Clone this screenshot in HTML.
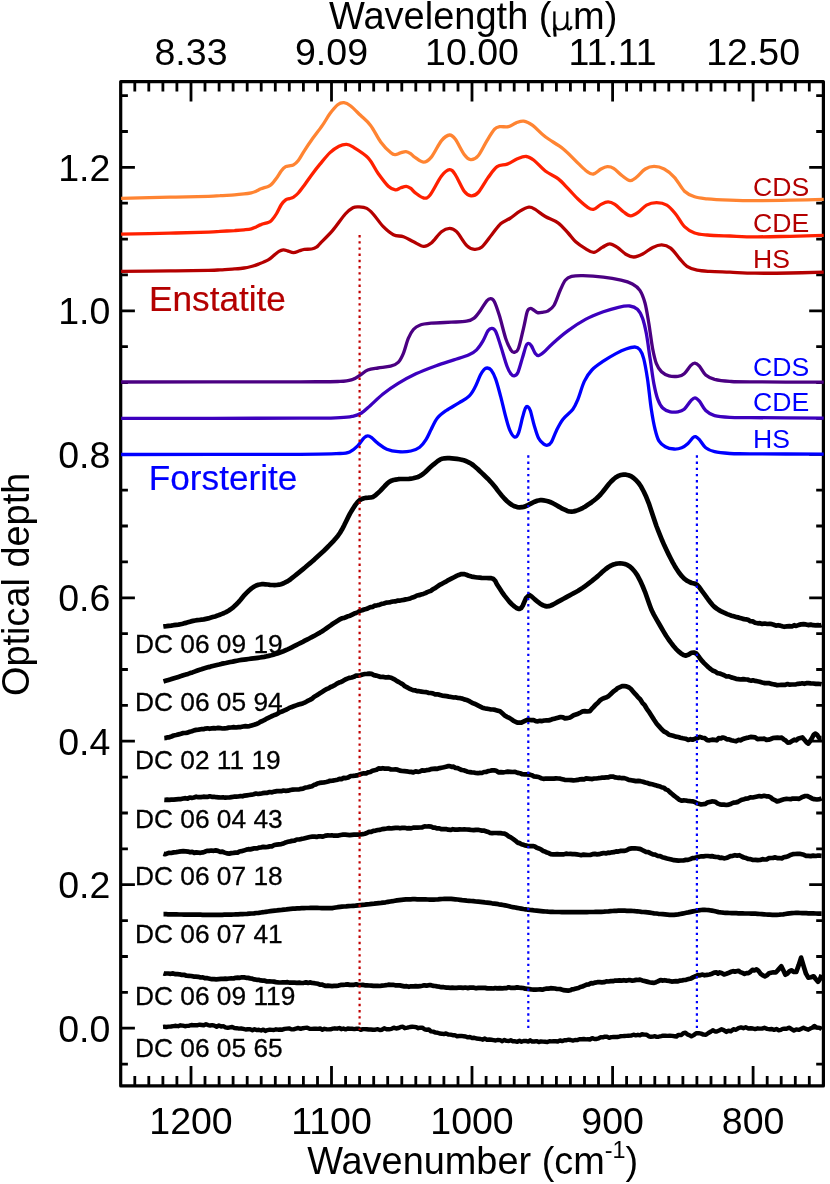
<!DOCTYPE html>
<html><head><meta charset="utf-8"><title>Optical depth spectra</title>
<style>html,body{margin:0;padding:0;background:#fff}svg{display:block;will-change:transform}text{font-family:"Liberation Sans", sans-serif}</style>
</head><body>
<svg width="830" height="1184" viewBox="0 0 830 1184">
<rect width="830" height="1184" fill="#fff"/>
<rect x="120.7" y="81.6" width="702.7" height="1004.3" fill="none" stroke="#000" stroke-width="3.2" stroke-linejoin="round"/>
<path d="M809.3 81.6 v10.0 M809.3 1085.9 v-10.0M795.3 81.6 v10.0 M795.3 1085.9 v-10.0M781.2 81.6 v10.0 M781.2 1085.9 v-10.0M767.2 81.6 v10.0 M767.2 1085.9 v-10.0M753.1 81.6 v20.0 M753.1 1085.9 v-20.0M739.1 81.6 v10.0 M739.1 1085.9 v-10.0M725.0 81.6 v10.0 M725.0 1085.9 v-10.0M711.0 81.6 v10.0 M711.0 1085.9 v-10.0M696.9 81.6 v10.0 M696.9 1085.9 v-10.0M682.9 81.6 v10.0 M682.9 1085.9 v-10.0M668.8 81.6 v10.0 M668.8 1085.9 v-10.0M654.8 81.6 v10.0 M654.8 1085.9 v-10.0M640.7 81.6 v10.0 M640.7 1085.9 v-10.0M626.6 81.6 v10.0 M626.6 1085.9 v-10.0M612.6 81.6 v20.0 M612.6 1085.9 v-20.0M598.5 81.6 v10.0 M598.5 1085.9 v-10.0M584.5 81.6 v10.0 M584.5 1085.9 v-10.0M570.4 81.6 v10.0 M570.4 1085.9 v-10.0M556.4 81.6 v10.0 M556.4 1085.9 v-10.0M542.3 81.6 v10.0 M542.3 1085.9 v-10.0M528.3 81.6 v10.0 M528.3 1085.9 v-10.0M514.2 81.6 v10.0 M514.2 1085.9 v-10.0M500.2 81.6 v10.0 M500.2 1085.9 v-10.0M486.1 81.6 v10.0 M486.1 1085.9 v-10.0M472.0 81.6 v20.0 M472.0 1085.9 v-20.0M458.0 81.6 v10.0 M458.0 1085.9 v-10.0M443.9 81.6 v10.0 M443.9 1085.9 v-10.0M429.9 81.6 v10.0 M429.9 1085.9 v-10.0M415.8 81.6 v10.0 M415.8 1085.9 v-10.0M401.8 81.6 v10.0 M401.8 1085.9 v-10.0M387.7 81.6 v10.0 M387.7 1085.9 v-10.0M373.7 81.6 v10.0 M373.7 1085.9 v-10.0M359.6 81.6 v10.0 M359.6 1085.9 v-10.0M345.6 81.6 v10.0 M345.6 1085.9 v-10.0M331.5 81.6 v20.0 M331.5 1085.9 v-20.0M317.5 81.6 v10.0 M317.5 1085.9 v-10.0M303.4 81.6 v10.0 M303.4 1085.9 v-10.0M289.3 81.6 v10.0 M289.3 1085.9 v-10.0M275.3 81.6 v10.0 M275.3 1085.9 v-10.0M261.2 81.6 v10.0 M261.2 1085.9 v-10.0M247.2 81.6 v10.0 M247.2 1085.9 v-10.0M233.1 81.6 v10.0 M233.1 1085.9 v-10.0M219.1 81.6 v10.0 M219.1 1085.9 v-10.0M205.0 81.6 v10.0 M205.0 1085.9 v-10.0M191.0 81.6 v20.0 M191.0 1085.9 v-20.0M176.9 81.6 v10.0 M176.9 1085.9 v-10.0M162.9 81.6 v10.0 M162.9 1085.9 v-10.0M148.8 81.6 v10.0 M148.8 1085.9 v-10.0M134.8 81.6 v10.0 M134.8 1085.9 v-10.0M120.7 1064.1 h7.2 M823.4 1064.1 h-7.2M120.7 1028.2 h14.2 M823.4 1028.2 h-14.2M120.7 992.3 h7.2 M823.4 992.3 h-7.2M120.7 956.5 h7.2 M823.4 956.5 h-7.2M120.7 920.6 h7.2 M823.4 920.6 h-7.2M120.7 884.7 h14.2 M823.4 884.7 h-14.2M120.7 848.9 h7.2 M823.4 848.9 h-7.2M120.7 813.0 h7.2 M823.4 813.0 h-7.2M120.7 777.1 h7.2 M823.4 777.1 h-7.2M120.7 741.2 h14.2 M823.4 741.2 h-14.2M120.7 705.4 h7.2 M823.4 705.4 h-7.2M120.7 669.5 h7.2 M823.4 669.5 h-7.2M120.7 633.6 h7.2 M823.4 633.6 h-7.2M120.7 597.8 h14.2 M823.4 597.8 h-14.2M120.7 561.9 h7.2 M823.4 561.9 h-7.2M120.7 526.0 h7.2 M823.4 526.0 h-7.2M120.7 490.2 h7.2 M823.4 490.2 h-7.2M120.7 454.3 h14.2 M823.4 454.3 h-14.2M120.7 418.4 h7.2 M823.4 418.4 h-7.2M120.7 382.5 h7.2 M823.4 382.5 h-7.2M120.7 346.7 h7.2 M823.4 346.7 h-7.2M120.7 310.8 h14.2 M823.4 310.8 h-14.2M120.7 274.9 h7.2 M823.4 274.9 h-7.2M120.7 239.1 h7.2 M823.4 239.1 h-7.2M120.7 203.2 h7.2 M823.4 203.2 h-7.2M120.7 167.3 h14.2 M823.4 167.3 h-14.2M120.7 131.5 h7.2 M823.4 131.5 h-7.2M120.7 95.6 h7.2 M823.4 95.6 h-7.2" stroke="#000" stroke-width="2.8" fill="none"/>
<path d="M121.1 271.4C129.2 271.3 155.4 271.1 170.0 270.9C184.6 270.7 200.3 270.5 208.6 270.3C216.9 270.1 215.7 270.1 220.0 269.9C224.3 269.7 230.5 269.2 234.5 268.9C238.5 268.6 241.3 268.4 244.1 268.0C246.9 267.6 248.9 267.1 251.3 266.5C253.7 265.9 255.8 265.2 258.6 264.1C261.4 263.0 265.6 261.4 268.2 259.9C270.8 258.4 272.4 256.5 274.2 255.1C276.0 253.7 277.5 252.3 279.0 251.4C280.5 250.5 281.9 250.0 283.3 249.9C284.7 249.8 285.8 250.3 287.5 250.8C289.2 251.3 291.5 252.7 293.5 252.7C295.5 252.7 297.7 251.4 299.5 250.8C301.3 250.2 302.3 249.7 304.3 249.4C306.3 249.1 309.6 249.4 311.6 249.0C313.6 248.6 315.0 248.1 316.4 247.2C317.8 246.3 317.3 246.4 320.0 243.6C322.7 240.8 328.5 235.3 332.7 230.4C336.9 225.5 341.9 217.8 345.3 214.0C348.7 210.2 350.6 208.9 352.9 207.7C355.2 206.5 356.9 206.8 359.2 206.9C361.5 207.0 364.5 207.2 366.8 208.4C369.1 209.6 370.4 211.0 373.1 214.0C375.9 217.0 379.9 223.2 383.3 226.6C386.7 230.0 390.0 233.0 393.4 234.7C396.8 236.4 400.1 235.6 403.5 236.8C406.9 238.0 410.2 240.2 413.6 241.8C417.0 243.4 420.8 246.2 423.7 246.4C426.6 246.6 428.3 245.6 431.3 243.1C434.3 240.6 438.4 234.1 441.5 231.7C444.6 229.2 447.1 228.4 449.6 228.4C452.1 228.4 453.7 228.8 456.6 231.7C459.5 234.6 463.8 242.6 466.8 245.6C469.8 248.6 471.9 249.2 474.4 249.4C476.9 249.6 478.9 249.4 481.9 246.9C484.8 244.4 488.9 238.1 492.1 234.2C495.3 230.3 497.9 226.2 500.9 223.6C503.8 221.0 506.6 220.6 509.8 218.5C513.0 216.4 516.7 213.1 519.9 211.2C523.1 209.3 526.3 207.5 528.9 207.2C531.5 206.9 532.5 207.8 535.2 209.4C537.9 211.0 541.5 214.3 545.3 216.5C549.1 218.7 554.2 220.1 558.0 222.8C561.8 225.6 565.1 229.8 568.1 233.0C571.1 236.2 572.8 239.2 575.7 241.8C578.7 244.5 582.8 247.1 585.8 248.9C588.8 250.7 591.2 252.7 593.9 252.4C596.6 252.2 599.6 248.8 602.2 247.4C604.9 246.0 607.3 243.8 609.8 243.8C612.3 243.8 614.6 245.6 617.4 247.4C620.1 249.2 623.5 252.9 626.3 254.5C629.0 256.1 631.2 257.1 633.9 257.0C636.6 256.9 639.6 255.6 642.7 254.0C645.9 252.4 649.6 248.9 652.8 247.4C656.0 245.9 658.7 244.8 661.7 244.9C664.7 245.0 667.7 245.9 670.6 248.1C673.5 250.3 676.7 255.2 679.4 258.3C682.1 261.4 684.0 264.4 687.0 266.4C690.0 268.4 693.3 269.4 697.1 270.2C700.9 271.0 704.3 271.1 709.8 271.4C715.3 271.7 722.5 271.9 730.0 272.2C737.5 272.5 745.0 273.1 755.0 273.2C765.0 273.3 778.5 273.2 790.0 273.0C801.5 272.8 818.1 272.3 823.7 272.2" fill="none" stroke="#b40000" stroke-width="3.3" stroke-linejoin="round" stroke-linecap="butt"/>
<path d="M121.1 234.2C129.2 234.0 155.4 233.4 170.0 233.1C184.6 232.8 200.3 232.4 208.6 232.1C216.9 231.8 215.7 231.6 220.0 231.3C224.3 231.1 230.5 230.8 234.5 230.6C238.5 230.3 241.3 230.1 244.1 229.8C246.9 229.5 249.3 229.3 251.3 228.8C253.3 228.3 254.5 227.7 256.1 227.0C257.7 226.3 259.0 225.3 261.0 224.6C263.0 223.8 266.4 223.2 268.2 222.5C270.0 221.8 270.4 221.6 271.8 220.1C273.2 218.6 275.0 216.1 276.6 213.5C278.2 210.9 279.9 206.8 281.4 204.5C282.9 202.2 284.4 200.9 285.7 199.9C287.0 198.9 288.0 199.1 289.3 198.7C290.6 198.2 292.0 198.1 293.5 197.2C295.0 196.2 296.5 195.0 298.3 193.0C300.1 191.0 302.1 188.2 304.3 185.2C306.5 182.2 309.0 178.4 311.6 174.9C314.2 171.4 316.9 167.8 320.0 164.1C323.1 160.4 326.8 155.6 330.0 152.6C333.2 149.6 336.2 147.6 339.0 146.2C341.8 144.8 344.3 144.3 346.6 144.4C348.9 144.5 349.3 144.7 352.9 146.9C356.5 149.1 363.9 153.4 368.1 157.8C372.3 162.2 374.8 168.8 378.2 173.5C381.6 178.2 385.4 183.5 388.3 186.2C391.2 188.9 393.3 189.5 395.4 189.8C397.5 190.1 398.9 188.4 400.7 187.8C402.5 187.2 404.6 186.2 406.3 186.3C408.0 186.4 409.4 187.4 410.8 188.4C412.2 189.4 412.9 191.0 415.0 192.6C417.1 194.2 421.2 197.6 423.7 198.0C426.2 198.4 427.1 198.7 430.1 195.0C433.1 191.3 438.2 180.2 441.5 176.0C444.8 171.8 447.3 169.9 449.6 169.7C451.9 169.5 453.0 171.2 455.4 174.8C457.8 178.4 461.6 187.7 464.2 191.2C466.8 194.7 468.8 195.6 471.1 195.8C473.4 196.0 475.3 195.6 478.2 192.5C481.1 189.4 485.1 181.6 488.3 177.3C491.5 173.0 494.0 168.9 497.1 166.7C500.2 164.5 503.8 165.4 507.2 164.1C510.6 162.8 514.2 160.1 517.4 158.8C520.6 157.5 523.5 156.2 526.3 156.5C529.0 156.8 530.7 157.9 533.9 160.3C537.1 162.7 541.3 167.9 545.3 171.0C549.3 174.1 554.2 175.7 558.0 178.6C561.8 181.5 564.7 185.2 568.1 188.7C571.5 192.1 575.0 196.3 578.2 199.3C581.4 202.3 584.6 205.2 587.1 206.9C589.6 208.6 591.1 209.8 593.4 209.4C595.7 209.0 598.5 205.7 601.0 204.4C603.5 203.1 605.8 201.8 608.1 201.8C610.4 201.8 612.3 202.7 614.9 204.4C617.5 206.1 621.1 210.1 623.7 212.0C626.3 213.9 628.3 215.7 630.6 215.8C632.9 215.9 635.1 214.5 637.7 212.7C640.4 210.9 643.4 206.8 646.5 205.1C649.6 203.4 653.2 202.6 656.6 202.6C660.0 202.6 663.6 203.2 666.8 205.1C670.0 207.0 672.6 210.4 675.6 214.0C678.6 217.6 681.3 223.4 684.5 226.6C687.7 229.8 690.8 231.6 694.6 233.0C698.4 234.4 701.3 234.5 707.2 235.0C713.1 235.5 722.0 235.7 730.0 236.0C738.0 236.3 745.0 236.8 755.0 236.8C765.0 236.9 778.5 236.5 790.0 236.3C801.5 236.1 818.1 235.6 823.7 235.4" fill="none" stroke="#ff2000" stroke-width="3.3" stroke-linejoin="round" stroke-linecap="butt"/>
<path d="M121.1 198.3C129.2 198.1 155.4 197.5 170.0 197.2C184.6 196.9 200.3 196.6 208.6 196.3C216.9 196.1 215.7 195.9 220.0 195.7C224.3 195.4 230.5 195.1 234.5 194.8C238.5 194.5 241.3 194.2 244.1 193.9C246.9 193.6 249.3 193.2 251.3 192.8C253.3 192.4 254.5 191.9 256.1 191.2C257.7 190.5 259.0 189.6 261.0 188.8C263.0 188.0 266.4 187.2 268.2 186.4C270.0 185.6 270.4 185.4 271.8 184.0C273.2 182.6 275.0 180.2 276.6 178.0C278.2 175.8 279.9 172.6 281.4 170.7C282.9 168.8 284.4 167.5 285.7 166.7C287.0 165.9 288.0 166.2 289.3 165.9C290.6 165.6 292.0 165.8 293.5 164.9C295.0 164.0 296.5 162.8 298.3 160.5C300.1 158.2 302.1 154.2 304.3 150.8C306.5 147.4 308.6 144.2 311.6 140.0C314.6 135.8 319.3 129.8 322.4 125.4C325.5 121.0 327.4 117.0 330.0 113.5C332.6 110.0 335.4 106.5 337.7 104.7C340.0 102.9 341.9 102.5 344.0 102.7C346.1 102.9 347.6 103.6 350.4 105.7C353.1 107.8 357.1 112.0 360.5 115.3C363.9 118.6 367.2 121.0 370.6 125.4C374.0 129.8 377.3 137.3 380.7 141.9C384.1 146.5 388.4 150.7 390.9 152.8C393.3 154.9 393.8 154.6 395.4 154.6C397.0 154.6 398.7 153.4 400.5 152.9C402.3 152.4 404.3 151.5 406.0 151.6C407.7 151.7 409.1 152.6 410.6 153.6C412.1 154.6 412.8 155.9 415.0 157.3C417.2 158.7 421.0 162.1 423.7 162.1C426.4 162.1 428.3 160.7 431.3 157.1C434.3 153.5 438.4 144.3 441.5 140.6C444.6 136.9 447.3 135.2 449.6 135.0C451.9 134.8 453.0 136.1 455.4 139.3C457.8 142.6 461.7 151.1 464.2 154.5C466.7 157.9 468.3 159.4 470.6 159.6C472.9 159.8 475.5 159.0 478.2 155.8C480.9 152.6 484.3 145.0 487.0 140.6C489.7 136.2 492.5 131.5 494.6 129.2C496.7 126.9 497.4 127.1 499.7 126.7C502.0 126.3 505.8 127.3 508.5 126.7C511.2 126.1 513.6 123.8 516.1 122.9C518.6 122.0 520.9 120.7 523.7 121.1C526.5 121.5 529.1 122.8 532.7 125.4C536.3 128.0 540.2 132.9 545.3 136.8C550.3 140.7 557.5 144.3 563.0 148.7C568.5 153.1 574.2 159.6 578.2 163.4C582.2 167.2 584.6 169.7 587.1 171.5C589.6 173.3 591.1 174.4 593.4 174.0C595.7 173.6 598.7 170.2 601.0 169.0C603.3 167.8 605.2 166.8 607.3 166.7C609.4 166.6 611.1 166.8 613.6 168.4C616.1 170.0 619.8 174.0 622.5 176.0C625.2 178.0 627.8 180.4 630.1 180.6C632.4 180.8 633.9 179.2 636.4 177.3C638.9 175.4 642.3 170.8 645.3 169.0C648.2 167.2 651.0 166.4 654.1 166.4C657.2 166.4 660.8 167.2 664.2 169.0C667.6 170.8 671.0 173.6 674.4 177.3C677.8 181.0 681.1 187.9 684.5 191.2C687.9 194.4 690.8 195.5 694.6 196.8C698.4 198.1 701.3 198.2 707.2 198.8C713.1 199.4 722.0 199.8 730.0 200.1C738.0 200.4 745.0 200.6 755.0 200.6C765.0 200.6 778.5 200.4 790.0 200.2C801.5 200.0 818.1 199.5 823.7 199.3" fill="none" stroke="#ff8432" stroke-width="3.3" stroke-linejoin="round" stroke-linecap="butt"/>
<path d="M121.1 454.5C150.9 454.5 263.5 454.5 300.0 454.3C336.5 454.1 331.6 453.9 340.0 453.5C348.4 453.1 347.2 453.0 350.1 451.7C353.1 450.4 355.4 448.2 357.7 445.9C360.0 443.6 362.3 439.5 364.0 437.8C365.7 436.1 366.5 435.8 367.8 435.8C369.1 435.8 369.9 436.3 371.6 437.6C373.3 438.9 375.5 441.5 378.0 443.4C380.5 445.3 383.4 447.8 386.8 449.2C390.2 450.6 394.2 451.4 398.2 451.7C402.2 452.0 407.3 451.8 410.9 451.0C414.5 450.2 417.2 449.1 419.7 447.2C422.2 445.3 424.1 442.6 426.0 439.6C427.9 436.7 429.2 433.1 431.1 429.5C433.0 425.9 434.9 421.3 437.4 418.1C439.9 414.9 442.7 413.0 446.3 410.5C449.9 408.0 455.1 405.3 458.9 402.9C462.7 400.5 466.4 398.8 469.1 396.1C471.9 393.4 473.5 390.0 475.4 386.5C477.3 383.0 478.9 378.0 480.4 375.1C481.9 372.2 483.0 370.5 484.2 369.3C485.4 368.1 486.1 367.9 487.3 368.0C488.5 368.1 489.7 368.2 491.1 370.0C492.5 371.8 494.0 374.5 495.6 378.9C497.2 383.3 499.0 390.3 500.7 396.6C502.4 402.9 504.1 411.1 505.7 416.8C507.2 422.5 508.5 427.3 510.0 430.7C511.5 434.1 513.2 436.7 514.6 437.1C516.0 437.5 517.0 436.7 518.4 433.3C519.8 429.9 521.5 421.0 522.7 416.8C523.9 412.6 524.6 409.7 525.5 408.0C526.4 406.3 527.0 406.3 527.8 406.7C528.6 407.1 529.2 407.3 530.3 410.5C531.4 413.7 532.9 421.1 534.3 425.7C535.7 430.3 537.0 435.2 538.6 438.3C540.2 441.4 542.3 443.1 543.8 444.2C545.3 445.3 546.3 445.5 547.6 445.2C548.9 444.9 549.9 444.5 551.4 442.1C552.9 439.7 554.5 434.5 556.4 430.7C558.3 426.9 560.0 423.0 562.8 419.4C565.5 415.8 570.4 412.6 572.9 409.2C575.4 405.8 576.1 403.7 578.0 399.1C579.9 394.5 582.0 386.2 584.3 381.4C586.6 376.5 588.7 373.4 591.9 370.0C595.1 366.6 599.3 363.9 603.3 361.2C607.3 358.5 612.1 355.6 615.9 353.6C619.7 351.6 622.8 350.1 626.0 349.0C629.2 347.9 632.6 346.9 634.9 347.0C637.2 347.1 638.4 347.9 639.9 349.8C641.4 351.7 642.4 353.8 643.7 358.6C645.0 363.5 646.2 370.5 647.5 378.9C648.8 387.3 650.0 400.8 651.3 409.2C652.6 417.6 653.8 424.2 655.1 429.5C656.4 434.8 657.2 438.0 658.9 440.9C660.6 443.8 662.8 445.3 665.3 446.7C667.8 448.1 671.4 448.8 674.1 449.0C676.8 449.2 679.4 448.6 681.7 447.7C684.0 446.8 686.1 445.1 688.0 443.4C689.9 441.7 691.8 438.7 693.1 437.6C694.4 436.5 694.6 436.3 695.6 436.6C696.6 436.9 697.7 437.8 699.4 439.6C701.1 441.5 703.2 445.7 705.7 447.7C708.2 449.7 710.6 450.7 714.6 451.7C718.6 452.7 723.9 453.1 729.8 453.5C735.7 453.9 734.4 453.7 750.0 453.8C765.6 453.9 811.4 454.1 823.7 454.2" fill="none" stroke="#0000ff" stroke-width="3.3" stroke-linejoin="round" stroke-linecap="butt"/>
<path d="M121.1 418.4C150.9 418.4 263.5 418.3 300.0 418.2C336.5 418.1 331.2 417.9 340.0 417.6C348.8 417.3 349.1 417.1 352.7 416.3C356.3 415.5 358.6 414.8 361.5 413.0C364.4 411.2 366.8 408.6 370.4 405.4C374.0 402.2 378.4 397.7 383.0 394.0C387.6 390.3 392.7 386.8 398.2 383.4C403.7 380.0 409.6 376.8 415.9 373.8C422.2 370.9 429.9 368.0 436.2 365.7C442.5 363.4 448.4 361.7 453.9 359.9C459.4 358.1 465.2 356.5 469.0 354.8C472.8 353.1 474.3 352.1 476.6 349.8C478.9 347.5 481.1 344.1 483.0 340.9C484.9 337.7 486.5 332.9 488.0 330.8C489.5 328.7 490.5 328.2 491.8 328.3C493.1 328.4 494.1 328.4 495.6 331.3C497.1 334.2 498.8 340.2 500.7 346.0C502.6 351.8 505.3 361.6 507.0 366.2C508.7 370.8 509.6 372.2 510.8 373.8C512.0 375.4 512.9 376.0 514.1 375.8C515.3 375.6 516.5 375.4 517.9 372.5C519.2 369.6 520.9 363.0 522.2 358.6C523.6 354.2 525.0 348.5 526.0 346.0C527.0 343.5 527.6 343.4 528.5 343.4C529.4 343.4 530.4 344.3 531.5 346.0C532.6 347.7 534.1 352.0 535.3 353.6C536.5 355.2 537.2 355.8 538.6 355.6C540.0 355.4 541.4 354.3 543.7 352.3C546.1 350.3 548.7 347.0 552.7 343.4C556.7 339.8 562.3 334.8 567.8 330.8C573.3 326.8 579.6 322.6 585.5 319.4C591.4 316.2 597.8 313.8 603.3 311.8C608.8 309.8 614.0 308.3 618.4 307.3C622.8 306.3 626.6 305.7 629.8 306.0C633.0 306.3 635.3 307.3 637.4 309.3C639.5 311.3 641.0 314.1 642.5 318.1C644.0 322.1 645.0 326.6 646.3 333.3C647.6 340.1 648.8 350.2 650.1 358.6C651.4 367.0 652.6 377.1 653.9 383.9C655.2 390.6 656.2 395.1 657.7 399.1C659.2 403.1 660.6 405.9 662.7 408.0C664.8 410.1 667.8 411.2 670.3 411.8C672.8 412.4 675.6 412.2 677.9 411.8C680.2 411.4 682.1 411.0 684.2 409.2C686.3 407.4 688.8 403.0 690.6 401.1C692.4 399.2 693.4 397.8 694.9 397.8C696.4 397.8 697.6 399.0 699.4 401.1C701.2 403.2 703.2 408.1 705.7 410.5C708.2 412.9 710.6 414.5 714.6 415.6C718.6 416.7 723.9 417.0 729.8 417.3C735.7 417.6 734.4 417.5 750.0 417.6C765.6 417.8 811.4 418.1 823.7 418.2" fill="none" stroke="#3c00be" stroke-width="3.3" stroke-linejoin="round" stroke-linecap="butt"/>
<path d="M121.1 382.0C150.9 382.0 263.5 381.9 300.0 381.8C336.5 381.7 331.2 381.8 340.0 381.4C348.8 381.0 349.3 380.4 352.7 379.4C356.1 378.3 357.7 376.7 360.2 375.1C362.7 373.5 364.8 371.2 367.8 370.0C370.8 368.8 374.2 368.6 378.0 368.0C381.8 367.4 387.2 367.1 390.6 366.2C394.0 365.3 396.1 364.5 398.2 362.4C400.3 360.3 401.6 357.6 403.3 353.6C405.0 349.6 406.6 342.4 408.3 338.4C410.0 334.4 411.5 331.7 413.4 329.5C415.3 327.3 416.8 326.2 419.7 325.2C422.6 324.1 425.8 323.7 431.1 323.2C436.4 322.7 445.4 322.5 451.3 322.2C457.2 321.9 462.7 321.9 466.5 321.2C470.3 320.5 471.8 319.9 474.1 318.1C476.4 316.3 478.3 313.4 480.4 310.5C482.5 307.6 485.1 302.9 486.8 300.9C488.5 298.9 489.3 298.6 490.6 298.7C491.9 298.8 492.9 298.9 494.4 301.7C495.9 304.5 497.5 309.5 499.4 315.6C501.3 321.7 503.8 332.7 505.7 338.4C507.6 344.1 509.4 347.5 510.8 349.8C512.2 352.1 512.8 352.5 514.1 352.3C515.4 352.1 516.8 352.5 518.4 348.5C520.0 344.5 522.0 334.4 523.5 328.3C525.0 322.2 526.1 315.1 527.2 311.8C528.3 308.5 529.2 308.8 530.3 308.5C531.4 308.2 532.4 309.3 533.6 310.0C534.8 310.7 535.9 312.2 537.4 312.6C538.9 313.0 540.7 312.6 542.4 312.3C544.1 312.1 545.7 312.2 547.6 311.1C549.5 310.0 551.8 309.0 553.9 305.5C556.0 302.0 558.3 294.5 560.2 290.3C562.1 286.1 563.4 282.5 565.3 280.2C567.2 277.9 568.6 277.2 571.6 276.4C574.6 275.6 577.7 275.5 583.0 275.6C588.3 275.7 597.0 276.3 603.3 277.1C609.6 277.9 616.1 279.1 621.0 280.2C625.9 281.3 629.2 282.3 632.4 284.0C635.5 285.7 637.8 287.1 639.9 290.3C642.0 293.5 643.5 297.5 645.0 303.0C646.5 308.5 647.5 315.6 648.8 323.2C650.1 330.8 651.3 341.8 652.6 348.5C653.9 355.2 654.9 359.8 656.4 363.7C657.9 367.6 659.4 369.8 661.5 371.8C663.6 373.8 666.3 375.1 669.0 375.8C671.7 376.6 675.4 376.6 677.9 376.3C680.4 376.0 682.1 375.6 684.2 373.8C686.3 372.0 688.8 367.5 690.6 365.7C692.4 363.9 693.4 363.1 694.9 363.2C696.4 363.3 697.6 364.2 699.4 366.2C701.2 368.2 703.2 372.9 705.7 375.1C708.2 377.3 710.6 378.3 714.6 379.4C718.6 380.4 723.9 381.0 729.8 381.4C735.7 381.8 734.4 381.8 750.0 381.9C765.6 382.0 811.4 382.1 823.7 382.2" fill="none" stroke="#4b0082" stroke-width="3.3" stroke-linejoin="round" stroke-linecap="butt"/>
<path d="M163.3 626.5L164.7 626.3L166.5 626.1L168.7 625.8L171.1 625.6L173.6 625.2L176.1 624.9L178.5 624.6L180.5 624.2L182.8 623.7L184.9 623.1L186.9 622.6L188.9 622.0L190.9 621.4L193.1 620.9L195.1 620.5L197.2 620.2L199.3 620.0L201.5 619.7L203.7 619.4L206.0 618.9L208.3 618.4L210.4 617.8L212.7 617.1L215.1 616.4L217.5 615.6L219.8 614.7L222.0 613.9L224.1 613.0L226.0 612.1L228.5 610.7L230.6 609.3L232.5 607.9L234.3 606.3L236.2 604.5L238.3 602.4L240.4 600.0L242.4 597.5L244.4 595.1L246.3 593.1L249.0 590.5L251.5 588.4L253.9 586.8L256.2 585.5L258.4 584.7L261.5 584.2L263.3 584.2L265.4 584.3L267.7 584.5L270.1 584.8L272.4 585.0L274.6 585.1L276.6 585.0L279.0 584.7L281.0 584.2L283.0 583.5L284.8 582.7L286.8 581.7L288.7 580.5L290.6 579.2L292.5 577.7L294.6 576.0L296.9 574.1L298.8 572.6L300.9 570.9L303.1 569.1L305.3 567.3L307.6 565.3L309.9 563.4L312.1 561.5L314.3 559.6L316.5 557.6L318.7 555.6L320.9 553.6L323.1 551.6L325.2 549.5L327.2 547.5L329.5 545.2L331.7 542.9L333.9 540.6L335.9 538.2L338.0 535.7L339.9 533.0L342.1 529.3L344.3 525.1L346.3 520.9L348.3 516.9L350.1 513.4L352.9 508.7L355.4 504.9L357.7 502.0L359.8 500.1L361.8 499.0L364.0 498.2L366.1 497.8L368.4 497.7L370.7 497.5L372.9 496.9L375.5 495.3L377.9 493.1L380.5 490.6L382.6 488.4L384.8 486.0L387.1 483.6L389.3 481.8L391.4 480.7L393.5 480.0L395.7 479.6L398.2 479.2L400.1 479.0L402.2 479.0L404.5 479.0L406.7 479.0L408.9 478.9L410.9 478.7L413.1 478.3L415.1 477.8L417.1 477.3L419.0 476.5L421.0 475.4L423.0 474.0L425.1 472.2L427.2 470.2L429.2 468.3L431.1 466.6L433.4 464.6L435.7 462.7L437.8 461.0L439.9 459.7L442.3 458.7L444.5 458.3L447.5 458.2L449.5 458.2L451.8 458.4L454.3 458.6L456.9 458.9L459.3 459.3L461.5 459.7L463.8 460.3L465.8 461.0L467.7 461.8L469.6 462.8L471.6 464.0L473.6 465.5L475.6 467.2L477.7 469.0L479.7 471.0L481.7 472.9L483.7 474.8L485.7 476.7L487.8 478.7L489.8 480.8L491.8 483.0L493.9 485.5L496.0 488.1L498.0 490.9L500.0 493.4L501.9 495.7L504.6 498.8L507.1 501.2L509.5 503.3L512.0 505.0L514.6 506.3L517.1 507.1L519.6 507.4L522.2 507.2L524.7 506.6L527.2 505.5L529.8 504.1L532.3 502.8L534.7 501.7L537.2 500.7L539.9 500.2L541.7 500.2L543.7 500.4L545.7 500.7L547.9 501.2L550.1 502.0L552.1 502.9L554.3 504.0L556.5 505.3L558.8 506.6L560.9 507.8L562.8 508.8L565.2 509.9L567.3 510.9L569.3 511.5L571.6 511.6L573.7 511.4L575.8 510.9L578.0 510.1L580.4 509.1L583.0 507.8L585.0 506.7L587.1 505.3L589.4 503.8L591.7 502.2L593.9 500.5L596.1 498.7L598.2 496.9L600.5 494.5L602.8 491.8L605.0 489.0L607.1 486.3L609.1 483.8L610.9 481.8L613.8 479.0L616.1 477.2L618.4 475.9L620.9 475.0L623.5 474.6L626.0 474.7L628.5 475.3L631.1 476.3L633.6 478.0L636.1 480.2L638.7 483.1L641.2 486.8L643.7 491.5L646.3 497.1L648.8 503.3L651.2 510.4L653.7 518.1L656.4 526.0L658.3 530.8L660.3 535.8L662.3 540.8L664.4 545.6L666.5 550.1L668.6 554.4L670.7 558.5L672.7 562.4L674.7 565.9L676.6 569.0L679.3 573.1L681.8 576.2L684.2 578.7L686.8 580.6L689.5 582.0L691.8 583.0L694.3 583.5L696.9 584.7L699.2 587.2L701.7 590.7L704.5 594.4L706.3 596.8L708.2 599.5L710.3 602.2L712.4 604.8L714.6 607.0L716.6 608.5L718.6 609.9L720.7 611.1L722.9 612.2L725.1 613.2L727.2 614.1L729.4 614.9L731.6 615.7L733.8 616.3L736.0 616.9L738.0 617.4L739.9 617.9L742.2 618.6L744.2 619.1L746.1 619.4L748.1 619.8L750.3 621.2L752.7 621.4L755.1 622.8L757.7 623.3L759.9 623.2L762.2 623.9L764.7 623.5L767.2 624.0L769.8 623.8L771.8 624.1L773.8 624.8L775.9 625.6L778.1 625.2L780.2 625.6L782.2 626.3L784.2 626.8L786.8 626.4L789.4 626.1L791.9 626.5L794.2 625.2L796.3 625.9L799.0 624.9L801.1 624.4L803.5 624.2L805.8 624.4L808.2 625.1L810.7 624.6L813.1 625.2L815.5 625.4L818.0 625.2L820.1 625.5L821.6 625.0" fill="none" stroke="#000" stroke-width="4.7" stroke-linejoin="round" stroke-linecap="butt"/>
<path d="M163.5 681.5L164.8 681.1L166.5 680.6L168.5 680.0L170.8 679.3L173.2 678.5L175.8 677.7L178.4 676.9L181.0 676.1L183.4 675.3L185.8 674.6L188.0 673.9L190.2 673.1L192.4 672.4L194.6 671.6L196.8 670.8L199.0 670.0L201.3 669.3L203.7 668.5L206.1 667.8L208.6 667.1L210.6 666.6L212.7 666.0L214.8 665.5L216.9 665.0L219.1 664.5L221.3 663.9L223.6 663.4L225.8 663.0L228.1 662.5L230.4 662.0L232.6 661.6L234.9 661.1L237.1 660.7L239.3 660.3L241.6 659.9L244.0 659.6L246.3 659.3L248.7 659.0L251.1 658.7L253.4 658.4L255.7 658.1L257.9 657.8L260.1 657.5L262.2 657.2L264.2 656.9L266.0 656.5L268.7 655.9L271.2 655.3L273.4 654.7L275.4 654.1L277.4 653.5L279.3 652.8L281.3 652.0L283.4 651.2L285.6 650.3L287.7 649.4L289.8 648.4L291.9 647.3L294.1 646.2L296.2 645.1L298.4 644.0L300.7 642.8L302.8 641.8L304.9 640.7L307.0 639.6L309.2 638.5L311.4 637.3L313.6 636.2L315.8 635.0L317.9 633.8L320.0 632.6L322.3 631.2L324.6 629.6L326.9 628.0L329.2 626.4L331.4 624.8L333.6 623.3L335.7 622.0L337.6 620.8L340.0 619.2L342.2 618.3L344.3 617.9L346.3 617.0L348.2 616.2L350.1 615.7L352.2 614.6L354.2 613.6L356.1 613.0L358.1 612.0L360.2 610.8L362.1 610.3L364.1 609.5L366.1 609.0L368.2 608.2L370.5 607.1L372.9 606.8L374.9 605.6L377.0 605.3L379.3 604.9L381.6 603.8L383.9 603.5L386.2 602.6L388.5 602.5L390.6 602.1L392.9 601.5L395.1 601.4L397.3 600.7L399.4 600.7L401.5 600.3L403.7 599.9L405.8 599.4L408.0 599.0L410.3 598.4L412.6 597.4L414.8 596.7L417.0 595.5L419.1 595.2L421.0 594.5L423.3 593.9L425.4 593.1L427.3 592.1L429.2 591.4L431.1 590.7L433.1 589.1L435.1 588.2L437.2 586.6L439.2 585.2L441.2 584.2L443.3 583.0L445.4 581.9L447.4 580.7L449.4 579.7L451.3 578.7L454.1 577.2L456.6 575.9L458.9 574.9L461.4 574.1L464.0 574.1L466.3 574.7L468.8 575.7L471.6 576.6L473.4 576.9L475.4 577.2L477.4 577.5L479.6 577.7L481.7 577.9L484.0 578.0L486.5 578.0L489.0 578.1L491.3 578.2L493.1 578.7L495.2 580.8L496.9 584.2L499.2 587.7L501.8 591.8L504.5 595.6L507.1 598.9L509.6 602.0L512.1 604.5L514.6 606.6L517.0 608.2L519.1 609.0L521.1 608.1L522.7 605.7L526.0 598.1L529.3 594.9L531.8 596.6L534.8 599.4L537.2 601.3L539.9 603.4L542.4 605.0L544.6 605.9L546.6 606.4L548.9 606.2L550.9 605.5L553.1 604.5L555.4 603.2L557.7 601.9L559.6 600.9L561.5 599.9L563.5 598.8L565.6 597.6L567.8 596.4L569.7 595.4L571.7 594.3L573.8 593.2L576.0 592.0L578.2 590.8L580.5 589.3L582.6 587.9L584.8 586.3L587.1 584.6L589.4 582.8L591.7 581.1L593.8 579.4L595.7 577.9L598.1 575.9L600.2 573.9L602.2 572.1L604.0 570.5L605.8 569.0L608.5 567.0L610.9 565.6L613.4 564.5L615.5 563.9L617.8 563.5L620.1 563.4L622.2 563.5L624.8 564.0L627.3 564.9L629.8 566.5L632.3 568.8L634.9 571.7L637.4 575.4L640.0 580.3L642.6 586.0L645.0 591.8L647.1 597.7L649.2 603.8L651.3 609.5L653.7 614.4L656.2 618.8L658.9 623.5L661.2 627.5L663.6 631.6L666.1 635.8L668.6 639.5L671.1 642.9L673.5 646.0L675.9 648.8L678.2 651.1L681.0 653.4L683.6 655.0L685.9 655.7L688.8 654.5L691.4 652.8L693.8 652.5L696.3 653.5L698.0 655.5L699.9 658.2L702.3 661.2L704.1 663.1L706.2 665.1L708.4 667.2L710.7 669.1L713.1 670.8L715.2 671.5L717.4 673.2L719.7 673.5L722.0 674.4L724.2 675.3L726.4 676.5L728.9 676.4L731.3 677.4L733.7 678.0L736.1 678.8L738.4 679.1L740.7 679.5L743.1 679.1L745.3 679.4L747.5 679.5L749.3 680.2L751.4 680.7L753.0 680.3L755.3 680.9L757.3 681.3L759.7 681.8L762.2 682.5L764.8 683.1L767.3 683.2L769.3 683.2L771.2 683.9L773.2 684.2L775.2 684.6L777.2 685.2L779.4 685.0L781.3 684.8L783.4 684.9L785.5 684.8L787.6 684.1L789.7 684.7L791.8 684.5L793.9 684.5L796.0 684.3L798.1 683.8L800.1 683.7L802.2 683.3L804.3 683.8L806.3 683.2L808.3 683.2L810.7 683.4L813.3 683.5L815.9 683.9L818.2 683.8L820.2 684.0L821.6 684.3" fill="none" stroke="#000" stroke-width="4.7" stroke-linejoin="round" stroke-linecap="butt"/>
<path d="M164.3 738.1L165.6 738.0L167.2 737.3L169.2 737.3L171.4 736.5L173.7 735.5L176.2 735.0L178.6 734.4L181.0 733.8L183.3 733.0L185.5 733.0L187.6 732.6L189.8 731.7L191.9 731.2L194.1 730.4L196.3 729.9L198.6 729.6L201.0 729.2L203.5 729.2L205.4 728.6L207.5 728.3L209.5 728.8L211.6 728.4L213.8 728.1L216.0 728.3L218.2 727.9L220.4 728.2L222.5 728.5L224.7 728.3L226.8 728.1L228.8 727.6L231.2 727.5L233.6 727.2L236.1 727.5L238.5 727.1L240.8 727.1L243.1 726.5L245.4 726.2L247.6 726.3L249.6 726.1L251.6 725.5L254.1 724.8L256.4 724.0L258.5 723.1L260.5 721.8L262.5 721.0L264.6 719.9L266.8 718.6L268.9 717.6L270.9 716.7L273.0 715.6L275.2 714.8L277.4 713.8L279.7 712.3L282.0 711.5L284.5 710.4L286.6 709.5L288.9 708.2L291.3 707.2L293.7 706.3L296.2 705.4L298.6 704.5L301.0 703.9L303.2 703.2L305.3 702.3L307.2 701.2L309.9 699.9L312.2 698.6L314.2 696.7L316.0 695.7L317.9 694.6L319.9 693.2L322.0 691.9L324.2 690.5L326.3 689.2L328.4 688.4L330.6 687.0L332.7 686.2L334.8 685.2L336.9 683.7L339.0 682.6L341.1 681.9L343.2 680.8L345.3 679.5L347.4 678.6L349.6 677.8L351.7 677.5L353.9 676.8L356.0 675.7L358.0 675.6L360.3 675.2L362.6 674.5L364.8 674.0L367.1 673.9L369.3 673.6L371.6 673.9L373.9 675.1L376.2 675.6L378.5 676.2L380.7 677.0L382.8 676.9L384.9 677.3L386.9 677.4L388.9 677.2L390.9 677.7L392.9 678.6L394.9 679.6L397.0 681.1L399.0 682.1L401.0 683.4L402.9 684.4L404.8 686.2L406.7 687.1L408.8 688.3L411.1 689.4L413.0 690.2L414.9 690.3L417.0 691.1L419.2 691.2L421.4 691.6L423.8 692.0L426.3 692.1L428.3 692.8L430.5 693.0L432.8 693.3L435.1 694.3L437.4 694.3L439.8 694.9L442.1 695.6L444.3 695.8L446.5 696.1L448.9 696.6L451.3 697.0L453.7 697.5L456.0 697.4L458.2 698.0L460.4 698.2L462.4 698.6L464.2 699.4L466.7 700.0L468.8 700.9L470.7 702.0L472.5 703.1L474.4 703.7L476.4 704.7L478.3 705.7L480.3 706.7L482.3 707.7L484.5 708.3L486.5 708.7L488.7 709.0L491.0 709.5L493.2 709.5L495.3 709.9L497.1 710.4L500.0 711.3L502.3 713.3L504.7 715.4L506.9 716.8L509.3 717.9L511.6 719.4L513.6 720.9L515.7 721.8L517.5 722.7L519.5 722.7L521.4 722.6L523.4 721.6L525.5 720.6L527.8 719.5L529.7 719.9L531.6 720.1L533.7 720.2L535.8 721.1L538.0 721.3L540.0 720.8L542.1 721.1L544.3 720.5L546.5 720.3L548.6 720.4L550.6 719.9L552.8 719.0L555.0 718.6L557.0 718.0L559.0 717.4L560.7 717.0L563.0 717.4L564.9 718.4L567.1 718.1L569.1 717.8L571.3 716.8L573.6 715.3L575.9 714.5L578.2 713.7L580.6 712.5L582.8 711.3L584.8 711.2L587.2 711.5L589.8 711.2L591.5 709.2L593.5 707.1L595.7 704.6L597.9 702.8L599.9 700.5L602.2 698.9L604.4 698.0L606.6 697.3L608.8 695.9L611.1 693.7L613.4 691.5L615.7 689.9L617.7 688.1L620.0 687.1L622.1 686.2L624.0 686.0L626.4 686.4L629.1 687.5L631.0 689.0L633.3 691.9L635.6 694.3L637.9 697.1L640.2 699.3L642.4 702.8L644.7 705.2L646.8 708.8L649.4 712.4L651.8 716.2L654.2 720.0L656.7 723.7L659.1 726.4L661.6 729.3L664.0 731.5L666.4 732.6L669.0 734.8L671.1 735.3L673.2 735.8L675.5 736.6L678.2 737.0L680.4 737.7L682.8 738.3L685.5 738.7L688.1 739.9L690.5 739.2L692.5 739.7L695.4 738.6L697.5 738.0L699.9 736.9L702.2 737.7L704.7 738.1L707.2 740.1L709.5 740.3L712.1 739.7L714.5 739.9L716.7 740.3L718.7 738.1L720.6 738.5L722.8 737.5L724.8 738.0L726.9 739.4L729.1 739.4L731.2 740.2L733.7 740.8L736.1 741.3L738.4 739.9L740.4 740.3L742.3 739.3L744.5 738.5L746.4 737.9L748.5 737.6L750.7 736.9L752.9 737.1L755.2 737.4L757.5 739.1L759.9 738.8L762.5 738.9L764.4 738.7L766.5 739.9L768.7 739.7L770.8 739.0L772.8 738.1L774.6 737.8L777.4 737.7L779.7 737.9L781.8 737.7L783.8 739.4L785.7 740.6L787.8 742.7L789.8 742.5L792.1 741.1L794.3 739.7L796.3 740.3L798.5 738.4L800.4 737.9L802.3 737.4L804.4 739.8L806.5 742.3L808.3 743.6L810.2 741.0L811.9 738.3L813.7 734.7L815.5 733.6L817.4 735.1L819.2 738.1L821.6 738.0" fill="none" stroke="#000" stroke-width="4.7" stroke-linejoin="round" stroke-linecap="butt"/>
<path d="M164.3 799.8L165.6 799.9L167.2 799.7L169.2 799.9L171.4 799.6L173.7 799.7L176.2 799.4L178.6 799.2L181.0 799.1L183.3 798.5L185.5 798.2L187.6 798.6L189.7 797.5L191.8 797.8L193.9 797.5L196.2 796.7L198.5 797.2L200.9 797.1L203.5 796.7L205.4 796.8L207.4 796.9L209.6 796.3L211.7 796.8L214.0 796.8L216.3 797.2L218.5 797.3L220.8 797.5L223.1 797.3L225.2 797.7L227.4 797.5L229.4 797.5L231.3 797.1L233.9 796.7L236.2 796.6L238.4 796.5L240.6 796.0L242.6 796.3L244.7 795.6L246.9 795.3L249.2 795.0L251.6 794.7L253.7 794.2L255.9 793.5L258.1 794.0L260.3 793.7L262.6 793.2L264.9 792.9L267.3 792.8L269.7 792.0L272.1 792.3L274.5 791.6L276.9 791.1L279.0 791.0L281.2 791.2L283.5 790.5L285.8 790.8L288.1 790.7L290.4 790.0L292.7 789.7L295.0 789.5L297.2 789.5L299.3 789.3L301.2 788.9L303.0 788.6L304.7 787.8L307.7 787.2L310.1 786.6L312.0 786.2L313.7 785.1L315.5 784.6L317.4 783.5L319.6 782.9L321.8 782.6L324.0 782.4L326.2 782.0L328.2 781.5L330.0 780.8L332.7 780.6L334.8 780.2L337.7 779.7L339.5 778.9L341.5 779.1L343.7 777.9L346.0 778.1L348.3 777.4L350.7 776.0L352.9 775.9L355.1 775.7L357.3 775.4L359.6 774.5L361.8 773.8L363.9 773.3L366.1 773.5L368.1 772.3L370.3 772.0L372.5 770.7L374.6 770.2L376.6 769.8L378.6 768.4L380.7 768.6L382.8 768.2L384.7 768.6L386.7 768.7L388.8 768.6L391.0 769.5L393.4 769.5L395.4 769.4L397.5 769.7L399.8 770.6L402.1 771.0L404.4 771.2L406.7 771.4L409.0 771.8L411.1 771.9L413.4 772.4L415.6 771.4L417.8 771.8L419.9 771.5L422.0 770.4L424.2 770.7L426.3 770.2L428.5 770.0L430.8 769.2L433.1 768.9L435.3 768.6L437.5 768.8L439.6 768.1L441.5 767.7L443.8 767.3L445.9 766.8L447.8 766.2L449.7 766.1L451.6 766.8L453.6 766.7L455.6 768.0L457.7 768.2L459.7 769.1L461.7 770.0L463.7 770.3L465.7 770.9L467.8 771.8L469.8 772.1L471.8 772.4L473.8 772.5L475.8 773.0L477.9 773.2L479.9 772.9L481.9 773.0L484.0 772.0L486.0 772.0L488.1 771.1L490.1 770.8L492.1 770.4L494.3 770.4L496.4 770.8L498.5 772.4L500.9 772.1L503.1 772.3L505.4 772.0L507.8 771.6L510.2 771.8L512.5 772.0L515.1 771.8L517.7 772.9L520.1 773.3L522.4 774.2L524.8 774.3L527.0 774.3L530.0 774.7L531.8 775.2L533.9 776.3L536.2 776.6L538.6 777.0L541.0 778.2L543.4 778.8L545.5 778.7L547.7 778.6L549.8 778.6L551.9 778.5L553.9 778.6L556.0 778.3L558.2 778.5L560.3 778.7L562.4 779.2L564.7 779.8L566.9 780.0L569.2 780.0L571.3 780.2L573.4 780.4L575.7 780.2L577.9 779.9L580.0 779.3L582.1 779.1L584.1 779.3L586.0 778.4L588.2 778.6L590.3 778.8L592.2 779.1L594.2 778.5L596.2 778.5L598.2 778.2L600.2 778.0L602.2 777.6L604.2 777.7L606.3 777.4L608.5 777.3L610.7 776.5L612.9 776.6L615.3 777.4L617.7 777.8L619.8 777.7L622.0 778.2L624.3 778.1L626.6 778.9L628.8 779.9L631.0 780.2L633.5 780.6L635.8 781.1L638.1 780.9L640.5 781.2L643.0 781.7L645.2 782.5L647.5 783.1L649.9 783.9L652.3 784.3L654.5 784.9L656.7 785.6L659.1 786.2L661.5 787.2L663.7 787.7L665.8 789.4L667.8 790.1L670.1 792.4L672.1 794.0L674.0 795.6L675.8 797.0L677.8 798.5L679.5 799.9L681.8 800.7L683.7 800.4L685.8 800.5L688.1 801.0L690.4 801.2L692.5 801.3L694.7 801.9L696.8 803.3L698.8 803.8L701.1 804.4L703.1 804.2L705.2 803.9L707.4 802.6L709.6 802.0L711.9 801.4L713.8 801.5L715.8 802.1L717.9 803.6L719.9 804.3L722.0 804.6L724.0 804.7L726.4 805.0L728.8 804.6L731.2 803.7L733.6 802.7L736.0 802.4L738.0 801.9L740.0 800.6L742.0 799.7L744.0 799.2L746.0 798.6L748.1 798.3L750.3 797.3L752.6 797.5L755.0 797.0L757.3 796.5L759.4 796.0L761.3 796.5L764.1 795.8L766.3 796.3L768.6 796.4L770.6 797.3L772.7 799.2L774.8 800.1L777.0 801.4L779.3 800.9L781.6 800.0L784.0 799.3L786.6 798.9L788.5 799.0L790.6 799.2L792.7 798.5L794.8 798.7L796.9 798.5L798.7 799.0L801.1 797.7L803.2 796.7L805.2 796.0L807.1 796.0L809.6 797.1L811.9 798.4L814.3 799.2L817.0 799.5L819.7 799.2L821.6 798.4" fill="none" stroke="#000" stroke-width="4.7" stroke-linejoin="round" stroke-linecap="butt"/>
<path d="M163.5 853.7L164.9 854.2L166.7 853.7L168.8 852.8L171.2 853.0L173.7 852.4L176.3 852.1L178.8 851.7L181.2 851.4L183.3 851.1L185.7 851.3L188.0 851.6L190.1 852.3L192.2 851.9L194.2 852.9L196.3 852.4L198.4 852.6L200.5 852.8L202.7 852.4L204.8 851.7L206.9 850.9L209.1 850.8L211.3 850.5L213.6 850.8L215.7 850.4L217.9 850.9L220.2 851.9L222.5 851.7L224.7 852.6L227.0 853.4L229.2 853.6L231.3 853.1L233.5 852.9L235.5 852.6L237.5 852.7L239.4 851.5L241.5 851.2L243.8 850.6L246.5 849.6L248.3 849.2L250.2 849.4L252.2 848.9L254.4 848.3L256.6 848.4L258.8 847.7L261.1 847.4L263.4 846.9L265.6 847.1L267.8 846.9L269.8 846.4L271.8 846.3L274.3 845.0L276.7 844.6L279.0 844.3L281.3 844.1L283.5 843.5L285.7 842.4L287.9 841.8L290.0 841.4L292.1 840.9L294.5 840.7L296.8 839.5L299.2 839.5L301.4 838.9L303.7 838.5L305.8 838.0L307.8 837.5L309.8 837.0L312.3 836.7L314.6 836.6L316.7 836.9L318.8 836.3L320.6 836.3L322.4 836.7L324.5 836.1L326.1 835.6L327.8 835.4L330.1 835.5L331.9 835.3L333.9 835.7L336.1 835.6L338.4 835.6L340.7 835.0L343.1 834.7L345.3 834.7L347.5 834.9L349.6 835.1L351.8 834.8L354.0 834.6L356.2 834.7L358.3 834.7L360.5 834.4L362.6 834.1L364.8 833.7L366.9 833.0L369.0 831.9L371.2 831.9L373.4 830.8L375.7 830.6L377.8 830.0L379.9 829.9L382.2 829.1L384.4 828.8L386.7 828.5L388.9 828.1L391.2 828.5L393.4 828.1L395.6 827.8L397.8 827.8L400.0 828.3L402.2 827.9L404.5 827.8L406.7 828.3L408.9 828.2L411.1 828.4L413.3 827.6L415.6 827.7L417.8 827.7L420.1 827.5L422.3 827.3L424.6 826.4L426.7 826.5L428.8 826.4L431.1 826.6L433.2 827.6L435.2 827.7L437.3 828.4L439.4 828.4L441.6 829.2L444.0 829.2L446.0 829.1L448.2 829.7L450.5 829.9L452.8 829.2L455.1 829.6L457.5 829.7L459.8 829.4L462.0 829.5L464.2 829.4L466.6 829.5L469.0 829.6L471.4 830.0L473.7 830.1L475.9 829.8L478.1 829.8L480.1 830.2L481.9 830.6L484.4 830.7L486.5 831.4L488.4 832.0L490.2 833.0L492.1 833.2L494.2 833.0L496.3 833.0L498.4 833.1L500.4 833.2L502.2 833.4L504.5 833.6L506.5 834.6L508.7 836.3L510.8 837.4L513.0 838.9L515.3 840.6L517.5 842.6L519.5 843.1L521.5 844.2L523.4 844.8L525.3 845.4L527.8 846.0L530.2 846.1L532.9 846.0L534.8 846.5L536.8 847.8L538.8 848.4L540.9 849.3L543.0 850.9L544.9 851.4L546.8 852.6L548.7 853.1L550.8 854.2L553.1 854.4L555.0 854.3L557.1 854.1L559.3 854.4L561.5 854.3L563.8 854.4L566.1 853.6L568.3 854.0L570.4 853.9L572.6 854.1L574.7 854.1L576.8 854.4L579.0 854.8L581.2 855.2L583.5 854.6L585.6 854.8L587.9 855.0L590.2 855.0L592.5 854.2L594.8 853.9L597.1 854.4L599.2 854.2L601.2 853.6L603.6 853.0L605.9 853.4L608.0 852.7L610.0 852.8L612.0 852.3L613.9 852.2L616.1 851.4L618.2 851.6L620.3 850.9L622.2 850.8L624.0 850.9L626.7 850.2L629.1 848.9L631.6 848.4L633.4 848.4L635.1 848.4L637.0 848.5L639.4 848.8L641.3 849.5L643.5 850.7L645.9 851.8L648.3 852.1L650.7 853.4L652.9 854.4L655.4 854.7L657.8 856.0L660.1 856.2L662.3 857.2L664.5 857.7L667.0 858.5L669.2 859.0L671.5 859.6L674.0 860.2L676.2 860.3L678.5 860.6L680.9 860.5L683.3 860.5L685.7 859.9L688.0 859.9L690.2 859.1L692.5 858.1L694.9 857.8L697.4 857.2L699.3 856.7L701.4 856.3L703.5 856.4L705.7 856.0L707.9 856.0L709.9 856.3L711.9 856.1L714.0 856.6L716.1 857.0L718.0 857.0L720.0 857.9L721.9 857.7L724.0 858.3L726.1 858.0L728.3 857.2L730.5 856.1L732.8 855.8L735.0 855.2L737.2 855.6L739.4 855.2L741.7 856.5L743.9 857.5L746.2 858.1L748.4 859.0L750.5 859.1L753.0 860.0L755.4 859.8L757.8 860.1L760.1 860.0L762.5 859.2L764.6 859.5L766.7 859.3L768.9 858.2L770.9 858.0L772.9 858.0L774.6 857.3L777.1 858.1L779.1 858.0L781.8 858.4L783.7 857.3L785.8 856.9L788.1 856.3L790.4 854.9L792.8 854.2L795.1 854.0L797.3 853.8L799.5 853.8L801.7 854.3L803.9 854.8L806.1 855.8L808.3 855.8L810.7 856.1L813.2 855.6L815.8 856.0L818.1 855.5L820.2 855.7L821.6 855.8" fill="none" stroke="#000" stroke-width="4.7" stroke-linejoin="round" stroke-linecap="butt"/>
<path d="M163.5 914.2L164.7 914.2L166.2 914.2L167.9 914.3L169.9 914.3L172.0 914.3L174.2 914.4L176.6 914.4L179.0 914.5L181.5 914.5L184.0 914.6L186.6 914.6L189.0 914.6L191.4 914.7L193.7 914.7L195.9 914.7L198.1 914.7L200.4 914.7L202.6 914.8L204.9 914.8L207.1 914.8L209.3 914.8L211.5 914.8L213.7 914.8L215.9 914.8L218.0 914.8L220.2 914.8L222.2 914.8L224.3 914.7L226.3 914.7L228.8 914.6L231.2 914.6L233.6 914.5L235.9 914.4L238.1 914.3L240.4 914.2L242.6 914.1L244.8 914.0L247.1 913.9L249.3 913.7L251.6 913.5L253.9 913.3L256.3 913.0L258.6 912.8L261.0 912.5L263.4 912.2L265.7 911.8L268.1 911.5L270.4 911.2L272.6 910.9L274.8 910.6L276.9 910.4L279.4 910.1L281.8 909.9L284.1 909.6L286.4 909.4L288.6 909.1L290.7 908.9L292.9 908.7L295.0 908.6L297.1 908.4L299.4 908.3L301.8 908.2L304.0 908.1L306.3 908.0L308.5 908.0L310.6 907.9L312.7 907.9L314.8 907.9L317.1 907.9L319.5 908.0L321.8 908.1L324.0 908.1L326.1 908.2L328.1 908.2L330.0 908.2L332.2 908.1L334.0 907.8L335.6 907.5L337.6 907.2L340.2 906.9L342.0 906.7L344.0 906.5L346.1 906.4L348.4 906.2L350.8 906.0L353.2 905.8L355.6 905.6L358.1 905.3L360.5 905.1L362.7 904.9L364.9 904.7L367.2 904.4L369.6 904.2L371.9 903.9L374.2 903.7L376.6 903.4L378.9 903.1L381.1 902.9L383.3 902.6L385.7 902.3L388.0 901.9L390.3 901.5L392.6 901.2L394.8 900.8L397.0 900.4L399.2 900.1L401.4 899.8L403.5 899.6L405.9 899.4L408.2 899.3L410.5 899.3L412.8 899.2L415.0 899.2L417.2 899.3L419.2 899.3L421.2 899.3L423.6 899.3L425.7 899.4L427.7 899.5L429.7 899.6L431.7 899.6L433.9 899.6L435.9 899.5L438.0 899.4L440.1 899.2L442.3 899.0L444.5 898.9L446.8 898.8L449.1 898.8L451.2 898.9L453.3 899.1L455.4 899.3L457.6 899.5L459.9 899.8L462.1 900.1L464.5 900.3L466.8 900.6L469.0 900.8L471.2 901.0L473.5 901.2L475.8 901.5L478.2 901.7L480.5 901.9L482.7 902.1L484.9 902.4L487.0 902.6L489.5 902.9L492.0 903.3L494.4 903.6L496.6 903.9L498.8 904.3L501.0 904.6L503.0 905.0L505.2 905.4L507.2 905.8L509.1 906.2L511.1 906.7L513.0 907.1L515.2 907.5L517.2 907.9L519.2 908.2L521.2 908.6L523.4 909.0L525.6 909.3L527.9 909.7L530.4 910.0L532.4 910.2L534.5 910.5L536.6 910.7L538.8 910.9L541.0 911.1L543.3 911.3L545.7 911.5L548.1 911.7L550.6 911.8L552.7 911.9L554.9 912.0L557.1 912.0L559.4 912.0L561.8 912.1L564.1 912.1L566.5 912.1L568.9 912.1L571.2 912.1L573.6 912.1L575.9 912.1L578.0 912.1L580.2 912.1L582.5 912.1L584.7 912.1L587.0 912.1L589.2 912.0L591.4 912.0L593.5 912.0L595.6 911.9L597.6 911.9L599.4 911.9L601.2 911.8L603.9 911.7L606.3 911.5L608.5 911.4L610.5 911.2L612.4 911.0L614.3 910.9L616.4 910.8L618.5 910.7L620.6 910.7L622.7 910.7L624.8 910.7L626.8 910.8L628.9 910.8L631.0 910.9L633.1 911.0L635.2 911.2L637.2 911.3L639.3 911.5L641.4 911.8L643.5 912.0L645.6 912.2L647.7 912.4L649.8 912.7L652.0 913.0L654.1 913.3L656.3 913.5L658.3 913.8L660.4 914.0L662.8 914.2L665.1 914.4L667.4 914.6L669.6 914.8L671.8 914.8L674.0 914.8L676.1 914.6L678.2 914.4L680.2 914.0L682.2 913.6L684.3 913.2L686.3 912.8L688.4 912.4L690.7 911.9L692.9 911.4L695.0 911.0L697.0 910.6L698.7 910.3L701.1 910.0L702.8 909.9L704.7 909.9L706.9 910.0L709.3 910.2L711.9 910.6L714.0 911.0L716.2 911.5L718.6 912.1L721.6 912.5L723.4 912.7L725.3 912.8L727.4 912.9L729.5 913.0L731.8 913.1L734.0 913.2L736.2 913.2L738.4 913.3L740.5 913.4L742.7 913.4L744.8 913.5L747.0 913.5L749.1 913.5L751.2 913.6L753.3 913.6L755.3 913.7L757.5 913.8L759.8 914.0L761.9 914.1L764.1 914.3L766.1 914.5L768.0 914.6L769.8 914.7L772.4 914.8L774.6 914.9L776.8 914.8L779.4 914.7L781.2 914.5L783.2 914.3L785.3 914.0L787.4 913.7L789.6 913.4L791.8 913.2L793.9 913.0L796.0 912.9L798.1 912.9L800.1 913.0L802.2 913.1L804.3 913.1L806.3 913.2L808.3 913.3L810.7 913.4L813.3 913.4L815.9 913.5L818.2 913.6L820.2 913.7L821.6 913.7" fill="none" stroke="#000" stroke-width="4.7" stroke-linejoin="round" stroke-linecap="butt"/>
<path d="M163.5 973.3L164.7 973.7L166.4 973.5L168.3 973.5L170.6 973.8L173.1 973.4L175.7 974.2L177.6 974.2L179.6 974.3L181.8 974.9L184.1 974.8L186.5 975.7L188.9 975.8L191.3 976.0L193.6 976.6L195.9 976.7L198.2 976.8L200.5 977.5L202.9 977.4L205.2 978.2L207.5 978.2L209.8 978.7L212.0 979.2L214.2 979.1L216.2 979.3L218.7 979.1L221.0 978.9L223.2 978.8L225.3 978.7L227.3 978.8L229.3 978.5L231.3 978.4L233.6 978.5L235.7 977.8L237.8 977.7L239.9 977.8L241.9 977.3L244.0 977.4L246.1 977.8L248.1 977.9L250.1 978.4L252.2 978.7L254.4 979.4L256.6 979.8L258.6 979.8L260.6 980.4L262.7 980.6L264.8 980.7L267.0 981.5L269.3 981.3L271.8 981.5L273.8 981.6L276.0 982.1L278.3 982.4L280.6 982.5L283.0 982.3L285.3 982.3L287.7 982.2L289.9 982.7L292.1 982.7L294.5 982.6L296.9 982.8L299.3 982.7L301.6 983.0L303.8 982.8L306.0 982.4L308.0 982.9L309.8 982.4L312.3 983.0L314.4 983.2L316.3 983.5L318.1 983.8L320.0 984.7L321.9 984.5L323.8 985.3L325.7 986.0L327.8 985.7L330.1 985.9L332.0 986.1L334.1 985.9L336.3 985.8L338.5 985.6L340.8 984.9L343.1 984.8L345.3 984.7L347.5 984.4L349.6 984.9L351.8 984.8L354.0 984.8L356.2 984.3L358.3 985.0L360.5 985.0L362.7 984.9L364.8 985.3L367.0 985.4L369.2 985.5L371.4 985.6L373.5 985.9L375.7 985.8L377.8 985.9L379.9 986.0L382.0 985.7L384.0 985.5L386.2 985.2L388.5 984.7L390.9 984.8L392.9 984.8L395.1 985.3L397.4 985.3L399.7 985.4L402.0 985.9L404.4 986.4L406.7 986.2L408.9 986.8L411.1 986.3L413.4 986.4L415.7 986.2L417.9 986.4L420.1 986.2L422.3 985.8L424.4 985.3L426.6 985.6L428.8 985.2L431.0 985.2L433.0 985.9L435.1 986.0L437.2 986.4L439.3 986.7L441.5 987.2L443.9 987.2L446.5 987.6L448.3 987.6L450.3 987.8L452.3 987.6L454.4 987.8L456.5 987.8L458.7 987.6L460.9 987.6L463.1 987.9L465.3 987.5L467.5 988.1L469.7 987.6L471.8 987.6L473.9 987.7L476.1 988.3L478.4 987.9L480.6 987.8L482.8 987.8L485.1 987.9L487.3 988.4L489.4 988.4L491.5 988.4L493.5 988.5L495.3 988.0L497.1 988.4L499.8 988.1L502.3 988.3L504.5 988.2L506.6 988.1L508.6 987.3L510.5 987.8L512.5 987.8L514.8 987.9L517.0 987.4L519.1 987.7L521.1 987.8L523.2 988.0L525.3 988.7L527.4 988.9L529.5 989.1L531.7 989.5L533.8 989.6L535.9 989.6L538.0 989.5L540.1 989.4L542.3 989.7L544.5 989.0L546.6 988.7L548.6 988.6L550.6 988.2L552.8 988.3L554.9 988.5L557.0 989.0L558.9 989.0L560.7 989.2L563.3 990.1L565.7 990.4L568.3 990.7L570.1 990.3L572.0 989.4L574.1 989.1L576.2 988.5L578.4 988.0L580.3 987.0L582.3 986.5L584.4 985.6L586.6 984.6L588.8 984.3L591.1 983.2L593.1 983.3L595.3 982.6L597.4 982.2L599.7 982.1L601.9 982.3L604.1 982.2L606.3 981.4L608.5 981.5L610.7 981.2L613.0 981.2L615.2 980.6L617.4 980.7L619.5 980.4L621.5 980.6L623.8 980.2L626.1 980.6L628.3 980.2L630.4 980.2L632.3 980.6L634.0 980.4L636.4 979.9L638.2 980.0L640.0 979.6L642.2 980.4L644.5 981.0L646.9 981.6L649.3 982.2L651.7 982.7L654.1 982.9L656.0 982.2L657.9 981.4L660.5 980.0L662.3 980.6L664.5 980.2L666.8 980.6L669.3 980.9L671.7 981.6L673.9 981.4L676.0 981.2L678.1 981.3L680.2 980.6L682.2 980.4L684.1 980.0L686.0 979.8L688.6 979.1L691.1 978.4L693.4 977.1L695.5 976.3L697.9 975.1L700.0 975.3L702.0 974.6L704.5 975.3L707.1 974.9L709.5 974.5L712.1 973.7L714.3 972.6L716.5 972.4L718.0 973.6L719.6 972.4L721.5 973.0L724.0 974.4L726.3 973.7L729.0 972.7L731.2 971.8L733.2 971.1L734.8 971.7L736.4 971.2L738.4 970.8L740.3 972.1L742.4 972.9L744.5 973.9L746.5 973.1L748.5 973.1L750.5 971.7L752.4 969.8L754.3 970.5L756.5 969.3L758.5 970.9L760.7 973.8L762.9 975.4L764.9 976.3L767.2 975.2L769.1 973.2L771.0 972.7L773.4 972.3L775.8 972.5L778.6 969.4L781.3 966.3L783.3 970.3L785.4 974.7L787.3 973.7L789.4 971.4L791.4 970.3L793.9 971.9L796.3 971.9L798.8 964.9L801.1 957.6L804.0 967.4L806.0 973.7L808.3 977.7L810.9 977.2L813.6 976.3L815.9 979.3L818.0 981.8L820.1 978.9L821.6 974.8" fill="none" stroke="#000" stroke-width="4.7" stroke-linejoin="round" stroke-linecap="butt"/>
<path d="M163.0 1026.9L164.4 1026.8L166.2 1027.0L168.5 1026.6L170.9 1026.5L173.4 1026.1L175.9 1025.8L178.2 1026.2L180.4 1025.3L182.6 1025.7L184.9 1026.2L187.1 1025.9L189.2 1025.7L191.4 1025.0L193.4 1025.2L195.6 1025.1L197.7 1025.2L199.7 1024.7L201.7 1025.0L203.8 1025.3L206.0 1024.2L208.0 1025.1L210.1 1025.5L212.2 1025.1L214.4 1025.6L216.6 1026.7L218.9 1025.5L221.2 1026.6L223.3 1026.2L225.4 1027.4L227.7 1027.9L229.9 1027.4L232.2 1027.0L234.4 1028.0L236.7 1028.2L238.9 1028.6L241.1 1028.5L243.4 1028.9L245.6 1029.5L247.9 1029.2L250.1 1029.2L252.4 1030.2L254.5 1029.2L256.6 1030.1L258.9 1029.8L261.1 1030.5L263.3 1029.6L265.4 1031.0L267.5 1030.1L269.7 1029.6L271.8 1029.9L273.9 1030.0L276.0 1029.3L278.1 1029.7L280.1 1029.5L282.3 1029.7L284.6 1028.9L287.0 1028.6L289.1 1028.4L291.2 1029.2L293.5 1029.4L295.9 1028.6L298.3 1028.0L300.7 1028.9L303.0 1028.2L305.1 1027.9L307.2 1027.7L309.6 1028.8L311.9 1028.9L314.0 1028.8L316.0 1028.7L318.1 1028.9L320.2 1028.5L322.4 1029.7L324.4 1028.8L326.4 1029.2L328.5 1029.4L330.6 1029.3L332.7 1028.7L334.9 1028.3L337.1 1028.7L339.3 1028.0L341.3 1029.2L343.4 1028.5L345.6 1029.4L347.7 1028.5L349.9 1028.8L352.1 1028.8L354.3 1029.1L356.4 1028.8L358.6 1028.6L360.7 1029.8L362.7 1029.1L364.7 1029.1L366.7 1029.2L368.7 1029.5L370.8 1029.5L373.0 1029.8L375.3 1029.7L377.8 1029.2L379.8 1030.0L382.0 1029.7L384.2 1028.3L386.6 1029.3L389.0 1029.3L391.4 1028.9L393.8 1027.6L396.2 1028.5L398.5 1028.0L400.8 1026.9L402.9 1026.8L404.8 1028.2L407.5 1027.7L409.9 1027.0L412.2 1026.8L414.3 1026.9L416.4 1027.2L418.3 1028.2L420.3 1027.7L422.2 1027.6L424.6 1029.3L426.8 1029.8L428.8 1029.5L430.9 1031.4L433.2 1031.6L435.7 1032.6L437.6 1032.7L439.6 1033.5L441.7 1033.7L443.8 1034.1L446.0 1033.4L448.3 1034.5L450.5 1034.6L452.7 1035.2L454.9 1035.1L457.0 1036.2L459.2 1036.0L461.3 1035.9L463.5 1036.2L465.6 1036.5L467.8 1037.4L469.9 1037.0L472.1 1038.0L474.2 1037.7L476.3 1038.5L478.5 1038.7L480.6 1039.0L482.8 1039.7L484.9 1038.5L487.1 1039.9L489.2 1039.5L491.4 1039.8L493.5 1040.1L495.7 1040.5L497.9 1039.9L500.1 1040.1L502.3 1041.2L504.5 1039.9L506.7 1040.9L508.8 1041.0L510.8 1040.2L512.8 1041.2L515.2 1041.3L517.4 1041.8L519.5 1040.8L521.5 1041.8L523.6 1041.0L525.8 1040.9L528.2 1041.6L530.2 1040.3L532.2 1041.5L534.3 1041.5L536.5 1041.1L538.7 1042.1L540.9 1041.4L543.1 1041.6L545.2 1041.8L547.4 1042.1L549.5 1041.2L551.6 1041.4L553.7 1041.2L555.8 1041.3L557.8 1041.5L560.0 1040.4L562.1 1041.1L564.4 1040.2L566.7 1040.2L568.7 1039.7L570.7 1040.0L572.9 1040.6L575.0 1040.0L577.2 1040.1L579.4 1039.3L581.6 1039.2L583.8 1039.0L585.9 1039.4L587.9 1039.3L589.9 1039.5L592.2 1038.1L594.4 1039.0L596.6 1039.0L598.7 1038.3L600.8 1037.2L602.8 1037.4L604.9 1036.7L607.0 1036.8L609.1 1037.8L611.3 1037.1L613.5 1037.0L615.7 1037.0L618.0 1037.0L620.2 1036.3L622.4 1036.1L624.5 1036.0L626.5 1035.9L628.4 1035.7L631.0 1035.6L633.5 1034.7L635.7 1035.3L637.9 1034.8L640.0 1035.3L642.0 1034.3L644.4 1034.6L646.7 1034.7L648.8 1036.3L650.9 1036.8L652.9 1036.6L655.0 1036.2L656.7 1036.9L658.7 1036.7L661.3 1036.2L663.1 1035.7L665.2 1035.7L667.4 1035.9L669.8 1035.7L672.2 1035.9L674.5 1036.2L676.5 1036.5L678.2 1035.0L681.4 1035.0L683.4 1033.1L685.4 1032.7L687.4 1034.4L689.3 1035.2L691.4 1036.4L693.7 1035.1L696.2 1033.3L698.7 1033.1L701.1 1033.6L703.5 1034.6L705.9 1034.8L708.4 1033.0L711.0 1031.5L713.1 1030.2L715.0 1031.5L716.7 1031.5L719.1 1030.5L721.6 1029.3L723.7 1030.1L726.4 1031.9L728.5 1030.6L730.9 1031.3L733.5 1029.2L736.0 1029.8L738.5 1028.1L741.0 1027.4L743.4 1028.2L745.7 1027.3L748.4 1028.5L750.8 1028.3L752.9 1028.5L755.0 1029.1L757.7 1028.3L759.6 1028.6L761.9 1028.6L764.4 1027.8L767.1 1028.9L769.8 1029.2L771.8 1029.0L774.1 1029.9L776.4 1029.0L778.7 1030.2L780.8 1029.9L782.7 1028.9L784.2 1028.8L786.5 1028.8L787.8 1028.2L789.5 1027.7L791.5 1029.1L793.9 1030.5L796.2 1029.4L798.8 1029.9L801.4 1028.7L803.5 1027.7L806.1 1028.9L808.3 1029.7L810.2 1028.6L812.2 1027.6L814.3 1025.9L816.9 1027.5L819.7 1027.9L821.6 1029.1" fill="none" stroke="#000" stroke-width="4.4" stroke-linejoin="round" stroke-linecap="butt"/>
<line x1="359.6" y1="235.0" x2="359.6" y2="1030.0" stroke="#c00000" stroke-width="2.2" stroke-dasharray="2.4 3.8"/>
<line x1="528.3" y1="455.3" x2="528.3" y2="1029.0" stroke="#0000ff" stroke-width="2.2" stroke-dasharray="2.4 3.8"/>
<line x1="696.9" y1="455.3" x2="696.9" y2="1029.0" stroke="#0000ff" stroke-width="2.2" stroke-dasharray="2.4 3.8"/>
<text x="191.0" y="65.2" font-size="37.5" text-anchor="middle">8.33</text>
<text x="191.0" y="1133.6" font-size="37.5" text-anchor="middle">1200</text>
<text x="331.5" y="65.2" font-size="37.5" text-anchor="middle">9.09</text>
<text x="331.5" y="1133.6" font-size="37.5" text-anchor="middle">1100</text>
<text x="472.0" y="65.2" font-size="37.5" text-anchor="middle">10.00</text>
<text x="472.0" y="1133.6" font-size="37.5" text-anchor="middle">1000</text>
<text x="612.6" y="65.2" font-size="37.5" text-anchor="middle">11.11</text>
<text x="612.6" y="1133.6" font-size="37.5" text-anchor="middle">900</text>
<text x="753.1" y="65.2" font-size="37.5" text-anchor="middle">12.50</text>
<text x="753.1" y="1133.6" font-size="37.5" text-anchor="middle">800</text>
<text x="110.4" y="1041.5" font-size="37.5" text-anchor="end">0.0</text>
<text x="110.4" y="898.0" font-size="37.5" text-anchor="end">0.2</text>
<text x="110.4" y="754.5" font-size="37.5" text-anchor="end">0.4</text>
<text x="110.4" y="611.1" font-size="37.5" text-anchor="end">0.6</text>
<text x="110.4" y="467.6" font-size="37.5" text-anchor="end">0.8</text>
<text x="110.4" y="324.1" font-size="37.5" text-anchor="end">1.0</text>
<text x="110.4" y="180.6" font-size="37.5" text-anchor="end">1.2</text>
<text x="329.0" y="28.5" font-size="38">Wavelength (</text>
<text x="573.0" y="28.5" font-size="38">m)</text>
<g fill="none" stroke="#000" stroke-linecap="butt" stroke-linejoin="round"><path d="M554.4 11.4V30.5" stroke-width="2.3"/><path d="M553.4 28L553.9 36.3L556.3 36.3L555.6 28Z" fill="#000" stroke-width="0.6"/><path d="M555.2 24.5C555.4 28.2 557.6 29.6 560.2 29.5C563.4 29.4 566.3 26.8 567 22.5" stroke-width="2.1"/><path d="M567.3 11.4V25.5C567.3 28.6 568.3 29.6 569.4 29.4C570.5 29.2 571.2 28 571.5 26.2" stroke-width="2.2"/></g>
<text x="307.2" y="1174.0" font-size="37.9">Wavenumber (cm<tspan font-size="23.4" dy="-15.7">-1</tspan><tspan dy="15.7">)</tspan></text>
<text transform="translate(28.5 584.4) rotate(-90)" font-size="37.9" text-anchor="middle">Optical depth</text>
<text x="149.0" y="310.5" font-size="35.2" fill="#b40000" stroke="#b40000" stroke-width="0.2">Enstatite</text>
<text x="148.8" y="489.8" font-size="35.2" fill="#0000ff" stroke="#0000ff" stroke-width="0.2">Forsterite</text>
<text x="753.0" y="196.2" font-size="26.6" fill="#b40000">CDS</text>
<text x="753.0" y="231.8" font-size="26.6" fill="#b40000">CDE</text>
<text x="753.0" y="267.8" font-size="26.6" fill="#b40000">HS</text>
<text x="753.0" y="375.9" font-size="26.6" fill="#0000ff">CDS</text>
<text x="753.0" y="411.4" font-size="26.6" fill="#0000ff">CDE</text>
<text x="753.0" y="447.5" font-size="26.6" fill="#0000ff">HS</text>
<text x="135.0" y="652.6" font-size="26.3" stroke="#000" stroke-width="0.3">DC 06 09 19</text>
<text x="135.0" y="711.3" font-size="26.3" stroke="#000" stroke-width="0.3">DC 06 05 94</text>
<text x="135.0" y="769.0" font-size="26.3" stroke="#000" stroke-width="0.3">DC 02 11 19</text>
<text x="135.0" y="827.7" font-size="26.3" stroke="#000" stroke-width="0.3">DC 06 04 43</text>
<text x="135.0" y="885.1" font-size="26.3" stroke="#000" stroke-width="0.3">DC 06 07 18</text>
<text x="135.0" y="942.5" font-size="26.3" stroke="#000" stroke-width="0.3">DC 06 07 41</text>
<text x="135.0" y="1005.0" font-size="26.3" stroke="#000" stroke-width="0.3">DC 06 09 119</text>
<text x="135.0" y="1057.2" font-size="26.3" stroke="#000" stroke-width="0.3">DC 06 05 65</text>
</svg></body></html>
